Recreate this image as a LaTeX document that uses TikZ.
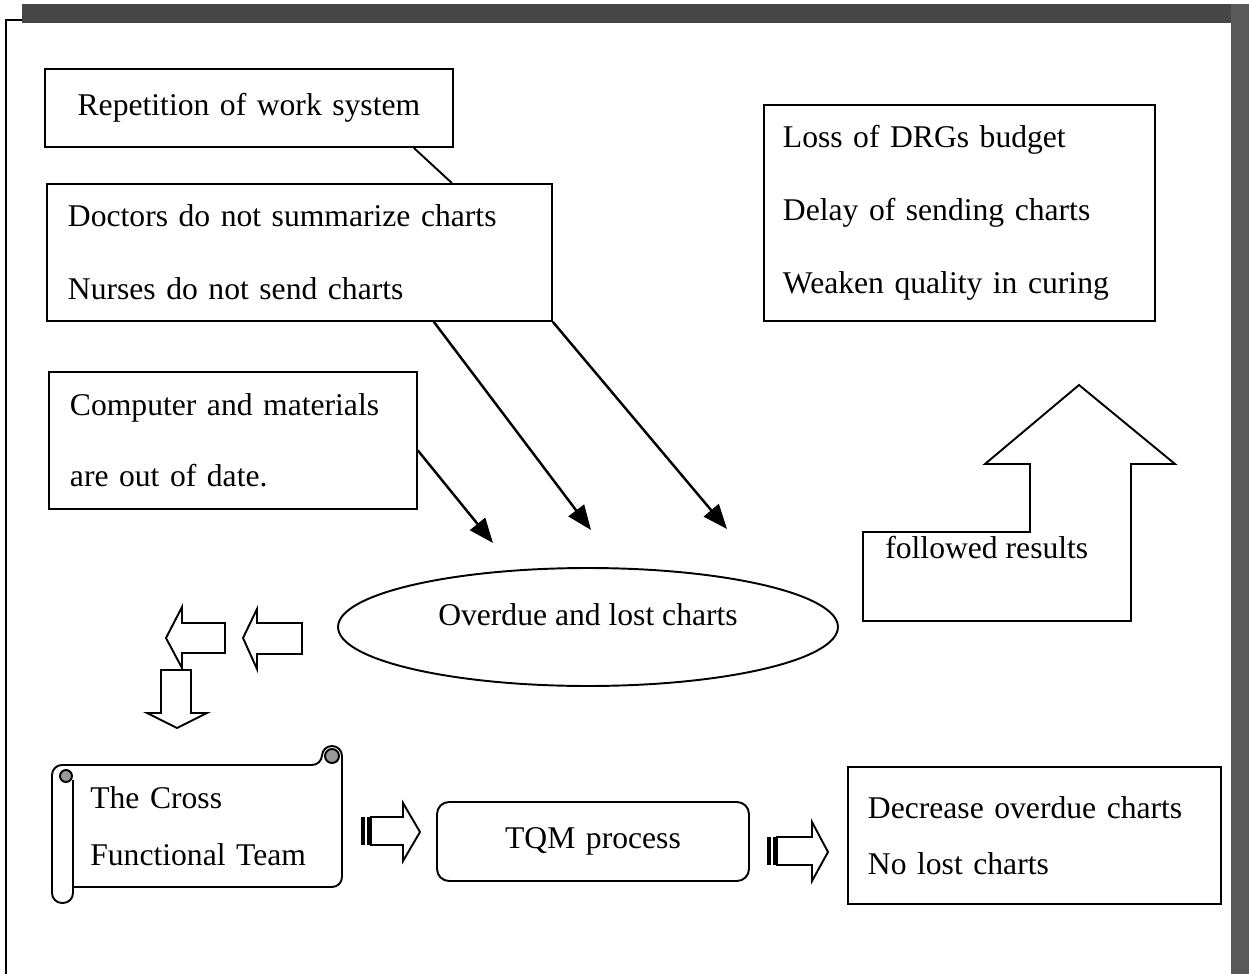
\documentclass[tikz,border=0pt]{standalone}
\usepackage{fontspec}
\setmainfont{Liberation Serif}
\usetikzlibrary{arrows.meta,shapes.geometric}

\tikzset{
  box/.style={draw, line width=1.1pt, anchor=north west, align=left, inner xsep=0.42cm, inner ysep=0pt},
  push/.style={line width=1.4pt, -{Triangle[length=14pt,width=11pt]}},
  blockarrow/.style={draw, line width=1.1pt, fill=white},
  curl/.style={draw, line width=1.1pt, fill=black!40},
}

\begin{document}
\begin{tikzpicture}[x=0.02cm, y=-0.02cm, font=\fontsize{18}{22}\selectfont]
  %%%%% START %%%%%
  \useasboundingbox (0,0) rectangle (1249,974);

  % scanned page edges
  \fill[black!72] (22,4) rectangle (1249,23);
  \fill[black!65] (1231,4) rectangle (1249,974);
  \draw[line width=1.2pt] (22,20) -- (6,20) -- (6,974);

  % causes
  \node[box, align=center, inner xsep=0.6cm, text width=6.96cm, minimum height=1.56cm] (rep) at (44,68) {Repetition of work system};
  \node[box, text width=9.26cm, minimum height=2.74cm] (doc) at (46,183) {Doctors do not summarize charts\\[19.4pt]Nurses do not send charts};
  \node[box, text width=6.52cm, minimum height=2.74cm] (comp) at (48,371) {Computer and materials\\[18.3pt]are out of date.};
  \node[box, inner xsep=0.38cm, text width=7.06cm, minimum height=4.32cm] (loss) at (763,104) {Loss of DRGs budget\\[19.4pt]Delay of sending charts\\[19.4pt]Weaken quality in curing};

  % problem
  \node[ellipse, draw, line width=1.1pt, minimum width=10cm, minimum height=2.36cm, inner sep=0pt, text height=12.4pt, text depth=13.6pt] (over) at (588,627) {Overdue and lost charts};

  % solution
  \node[box, anchor=center, rounded corners=0.24cm, align=center, inner xsep=0pt, text width=6.24cm, minimum height=1.58cm] (tqm) at (593,841.5) {TQM process};
  \node[box, inner xsep=0.4cm, text width=6.66cm, minimum height=2.74cm] (dec) at (847,766) {Decrease overdue charts\\[9.9pt]No lost charts};
  \node[anchor=north west, align=left, inner xsep=0.34cm, inner ysep=0pt, text width=4.7cm, minimum height=2.44cm] (team) at (73,765) {The Cross\\[10.4pt]Functional Team};

  % scroll round the team
  \draw[line width=1.1pt, rounded corners=0.2cm] (73,780) -- (73,903) -- (52,903) -- (52,765) -- (322,765) -- (322,746) -- (342,746) -- (342,887) -- (73,887);
  \draw[curl] (66,776) circle (6);
  \draw[curl] (332,756) circle (7);

  % cause arrows
  \draw[line width=1.1pt] ([xshift=-0.8cm]rep.south east) -- ([xshift=-2.02cm]doc.north east);
  \coordinate (hitA) at (493,543);
  \coordinate (hitB) at (591,530);
  \coordinate (hitC) at (727,529);
  \draw[push] ([yshift=-0.2cm]comp.east) -- (hitA);
  \draw[push] ([xshift=2.69cm]doc.south) -- (hitB);
  \draw[push] (doc.south east) -- (hitC);

  % block arrows toward the team
  \draw[blockarrow] (302,623) -- (257,623) -- (257,609) -- (243,638) -- (257,669) -- (257,654) -- (302,654) -- cycle;
  \draw[blockarrow] (225,623) -- (182,623) -- (182,607) -- (166,638) -- (182,668) -- (182,653) -- (225,653) -- cycle;
  \draw[blockarrow] (161,670) -- (191,670) -- (191,713) -- (207,713) -- (177,728) -- (147,713) -- (161,713) -- cycle;

  % striped arrows
  \fill (361,817) rectangle (365,845);
  \fill (367,817) rectangle (371,845);
  \draw[blockarrow] (371,817) -- (403,817) -- (403,803) -- (420,832) -- (403,861) -- (403,845) -- (371,845) -- cycle;
  \fill (767,837) rectangle (771,865);
  \fill (773,837) rectangle (777,865);
  \draw[blockarrow] (777,837) -- (812,837) -- (812,822) -- (828,852) -- (812,881) -- (812,865) -- (777,865) -- cycle;

  % results arrow
  \draw[line width=1.1pt] (863,621) -- (863,532) -- (1030,532) -- (1030,464) -- (985,464) -- (1079,385) -- (1175,464) -- (1131,464) -- (1131,621) -- cycle;
  \node[anchor=west, inner sep=0pt] (res) at (885,548) {followed results};

  %%%%% END %%%%%
\end{tikzpicture}
\end{document}
